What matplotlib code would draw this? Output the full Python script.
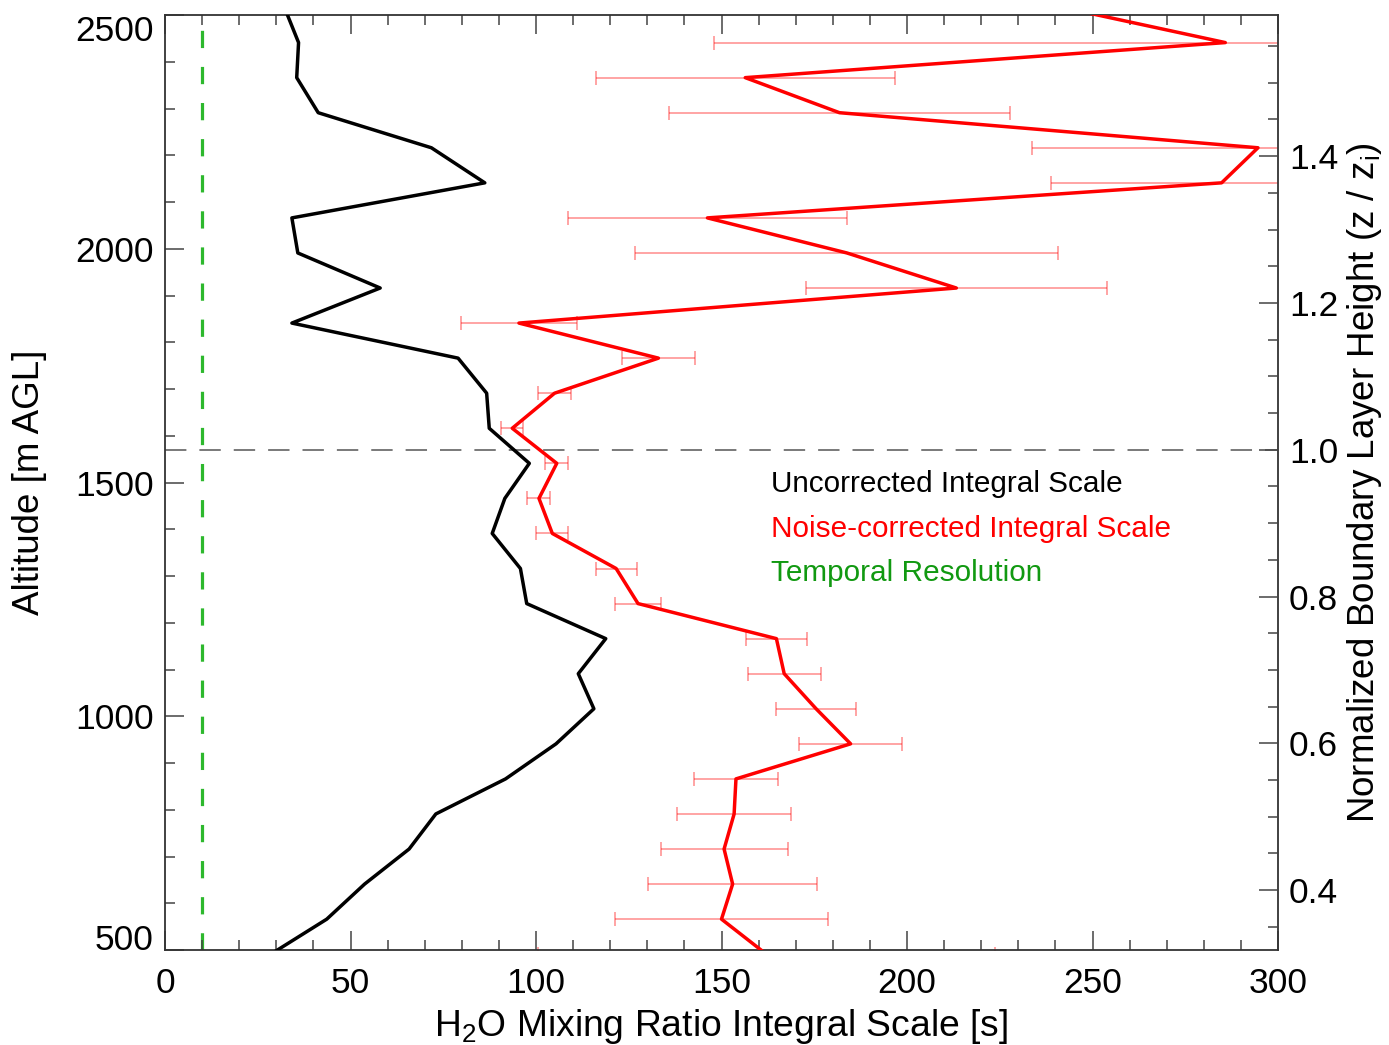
import matplotlib
matplotlib.use('Agg')
import matplotlib.pyplot as plt
from matplotlib.ticker import MultipleLocator, FormatStrFormatter

plt.rcParams['font.family'] = ['Liberation Sans', 'DejaVu Sans']
plt.rcParams['mathtext.default'] = 'regular'

# range gates [m AGL]
altitude = [491, 566, 641, 716, 791, 866, 941, 1016, 1091, 1166, 1241, 1316, 1391, 1466,
            1541, 1616, 1691, 1766, 1841, 1916, 1991, 2066, 2141, 2216, 2291, 2366, 2441, 2516]

# integral scales [s]
uncorrected = [28.5, 43.6, 53.8, 65.8, 73.0, 91.8, 105.4, 115.6, 111.4, 118.8, 97.5, 95.8, 88.2, 91.6,
               98.2, 87.4, 86.7, 79.0, 34.2, 58.0, 35.8, 34.2, 86.2, 71.8, 41.3, 35.5, 36.0, 32.2]
corrected = [162.1, 150.0, 153.0, 150.7, 153.4, 153.9, 184.8, 175.5, 166.9, 164.8, 127.5, 121.6, 104.4, 100.8,
             105.6, 93.6, 105.0, 133.0, 95.4, 213.3, 183.8, 146.2, 284.8, 294.6, 181.8, 156.4, 285.8, 242.0]
corrected_err = [61.6, 28.8, 22.7, 17.1, 15.3, 11.2, 13.8, 10.7, 9.8, 8.3, 6.3, 5.5, 4.3, 3.1,
                 3.1, 2.9, 4.5, 9.8, 15.7, 40.6, 57.0, 37.7, 46.0, 61.0, 45.9, 40.3, 137.8, 60.0]

temporal_res = 10.0   # s
zi = 1570.0           # boundary layer height [m]
alt_ticks = [500, 1000, 1500, 2000, 2500]

W, H = 1389, 1045
fig = plt.figure(figsize=(W/100, H/100), dpi=100)
ax = fig.add_axes([165/W, (H-950)/H, 1113/W, 935/H])

ax.errorbar(corrected, altitude, xerr=corrected_err, fmt='none', ecolor='red', alpha=0.42,
            elinewidth=1.2, capsize=4.7, capthick=1.2, zorder=2)
ax.plot(uncorrected, altitude, color='k', lw=2.5, zorder=3)
ax.plot(corrected, altitude, color='red', lw=2.5, zorder=3)
ax.axvline(temporal_res, color='#2db82d', lw=2.3, dashes=(5.4, 5.9), zorder=1)
ax.axhline(zi, color='#555555', lw=1.1, dashes=(14, 8.5), zorder=1)

ax.xaxis.set_major_locator(MultipleLocator(50))
ax.xaxis.set_minor_locator(MultipleLocator(10))
yticks = ax.set_yticks(alt_ticks, labels=[str(t) for t in alt_ticks])
ax.yaxis.set_minor_locator(MultipleLocator(100))
ax.set_xlim(0, 300)
ax.set_ylim(500, 2500)
yticks[0].label1.set_va('baseline')
yticks[-1].label1.set_va('top')

ax.tick_params(axis='x', which='both', direction='in', top=True, bottom=True, pad=12)
ax.tick_params(axis='y', which='both', direction='in', left=True, right=False, pad=8)
ax.tick_params(which='major', length=14, width=1.1, color='#444444', labelsize=25.5)
ax.tick_params(which='minor', length=7, width=1.1, color='#444444')
for s in ax.spines.values():
    s.set_color('#333333')
    s.set_linewidth(1.3)

ax2 = ax.twinx()
ax2.set_ylim(500/zi, 2500/zi)
ax2.yaxis.set_major_locator(MultipleLocator(0.2))
ax2.yaxis.set_minor_locator(MultipleLocator(0.05))
ax2.yaxis.set_major_formatter(FormatStrFormatter('%.1f'))
ax2.tick_params(axis='y', which='both', direction='in', right=True, left=False, pad=8)
ax2.tick_params(which='major', length=14, width=1.1, color='#444444', labelsize=25.5)
ax2.tick_params(which='minor', length=7, width=1.1, color='#444444')
for s in ax2.spines.values():
    s.set_visible(False)

# in-plot legend
tx = 0.5445
ax.text(tx, 0.4902, 'Uncorrected Integral Scale', color='k', fontsize=21.4, transform=ax.transAxes, va='baseline')
ax.text(tx, 0.4420, 'Noise-corrected Integral Scale', color='red', fontsize=21.4, transform=ax.transAxes, va='baseline')
ax.text(tx, 0.3950, 'Temporal Resolution', color='#119911', fontsize=21.4, transform=ax.transAxes, va='baseline')

fig.text(30/W, 1 - 482.5/H, 'Altitude [m AGL]', rotation=90, ha='center', va='center', fontsize=26.5)
fig.text(721.5/W, 1 - 1036/H, r'H$_{2}$O Mixing Ratio Integral Scale [s]', ha='center', va='baseline', fontsize=26.8)
fig.text(1365/W, 1 - 482.5/H, r'Normalized Boundary Layer Height (z / z$_{i}$)', rotation=90,
         ha='center', va='center', fontsize=26.5)

fig.savefig('out.png', dpi=100)
